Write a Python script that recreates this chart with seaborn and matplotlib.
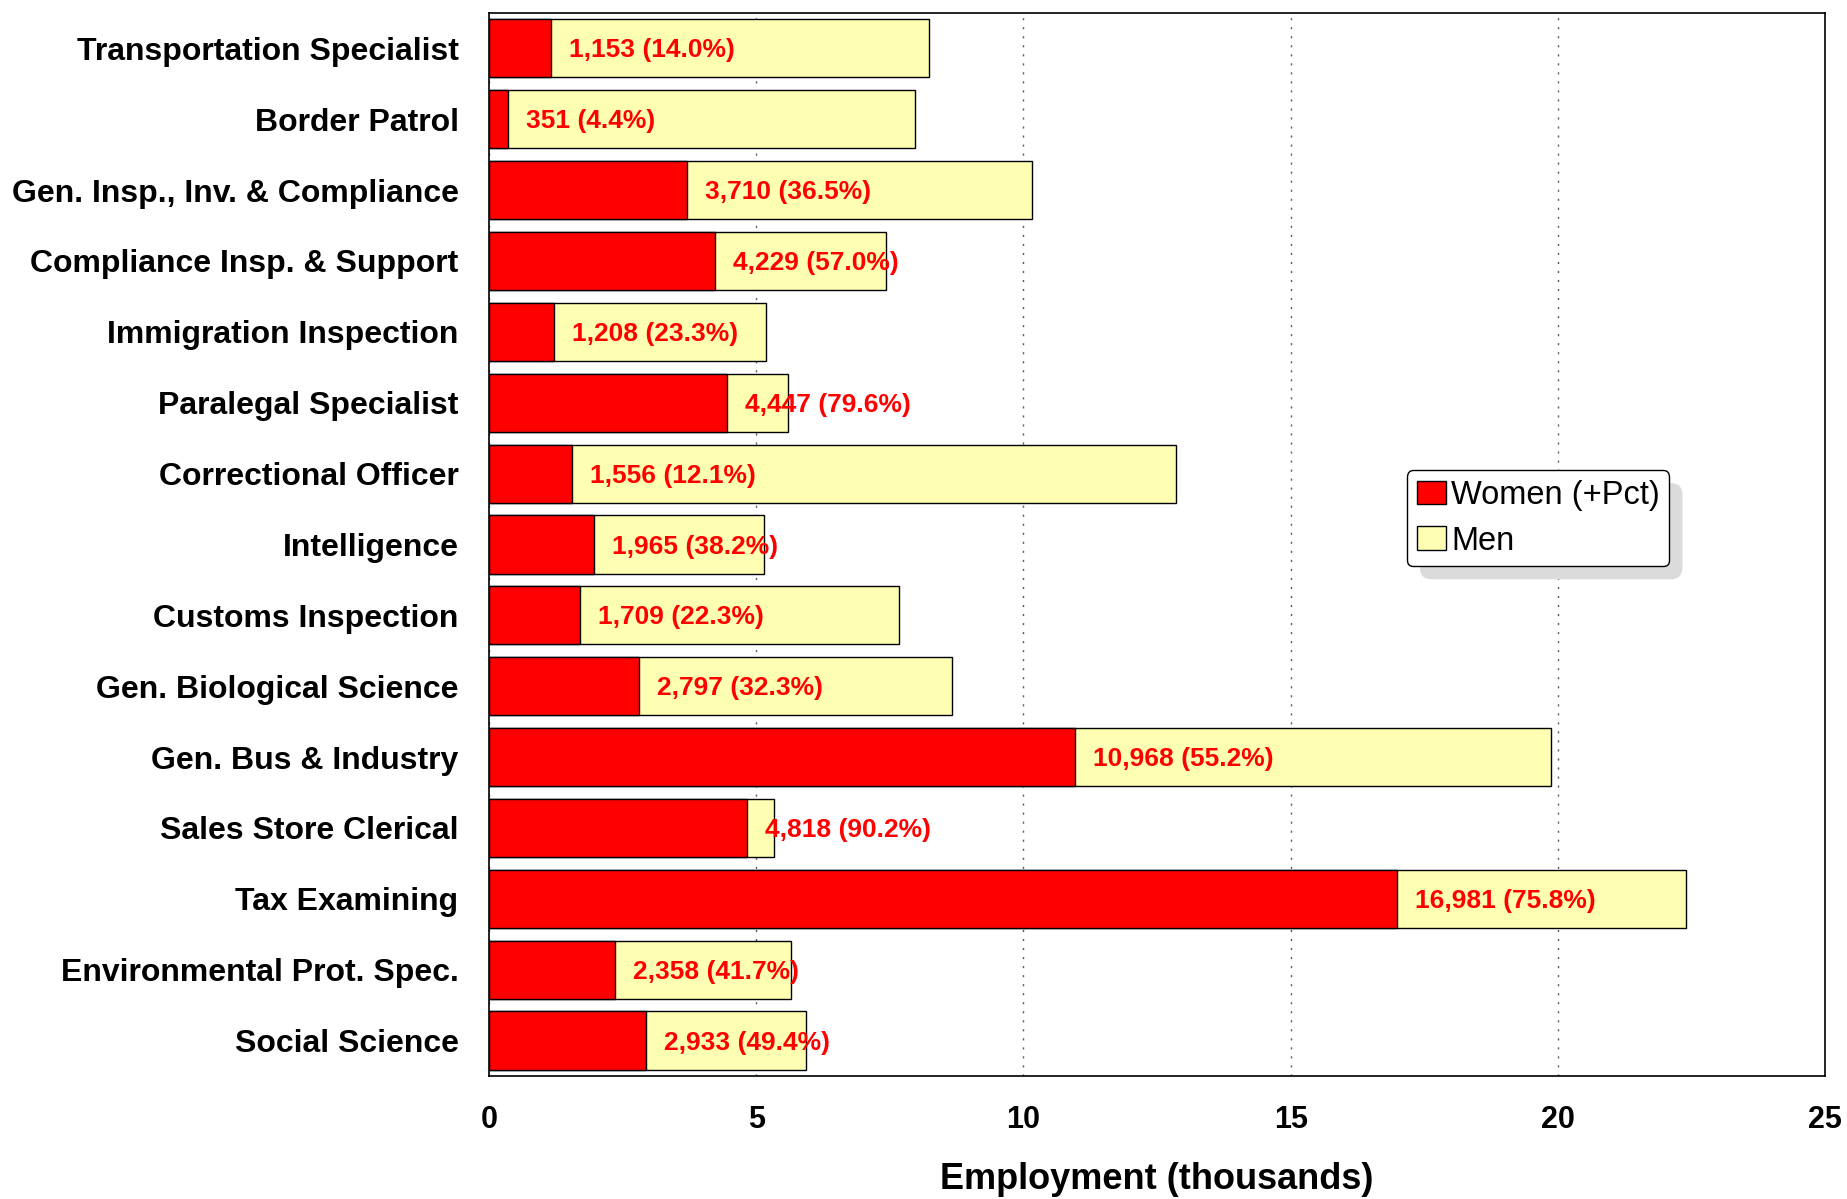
import matplotlib
matplotlib.use("Agg")
import matplotlib.pyplot as plt
import seaborn as sns
import pandas as pd
from matplotlib.patches import FancyBboxPatch, Patch
from matplotlib.transforms import IdentityTransform

categories = [
    "Transportation Specialist", "Border Patrol", "Gen. Insp., Inv. & Compliance",
    "Compliance Insp. & Support", "Immigration Inspection", "Paralegal Specialist",
    "Correctional Officer", "Intelligence", "Customs Inspection",
    "Gen. Biological Science", "Gen. Bus & Industry", "Sales Store Clerical",
    "Tax Examining", "Environmental Prot. Spec.", "Social Science",
]
women = [1153, 351, 3710, 4229, 1208, 4447, 1556, 1965, 1709, 2797, 10968, 4818, 16981, 2358, 2933]
men = [7083, 7626, 6454, 3190, 3977, 1140, 11304, 3179, 5955, 5862, 8902, 523, 5421, 3297, 3004]
women_pct = [14.0, 4.4, 36.5, 57.0, 23.3, 79.6, 12.1, 38.2, 22.3, 32.3, 55.2, 90.2, 75.8, 41.7, 49.4]
x_ticks = [0, 5, 10, 15, 20, 25]

df = pd.DataFrame({
    "cat": categories,
    "women_k": [w / 1000 for w in women],
    "total_k": [(w + m) / 1000 for w, m in zip(women, men)],
})

sns.set_style("white")
plt.rcParams["font.family"] = ["Liberation Sans", "DejaVu Sans"]
for key in ["text.color", "axes.labelcolor", "xtick.color", "ytick.color"]:
    plt.rcParams[key] = "black"

fig = plt.figure(figsize=(18.47, 11.99), dpi=100)
ax = fig.add_axes([0.2648, 0.1026, 0.7233, 0.8866])

RED = "#FF0000"
YEL = "#FFFFB3"

sns.barplot(data=df, x="total_k", y="cat", orient="h", color=YEL, saturation=1,
            width=0.82, edgecolor="black", linewidth=1.0, ax=ax, zorder=3)
sns.barplot(data=df, x="women_k", y="cat", orient="h", color=RED, saturation=1,
            width=0.82, edgecolor="black", linewidth=1.0, ax=ax, zorder=3)

for i, (w, p) in enumerate(zip(women, women_pct)):
    ax.annotate(f"{w:,} ({p:.1f}%)", xy=(w / 1000, i), xytext=(13, -1.5),
                textcoords="offset points", ha="left", va="center",
                color=RED, fontsize=19, fontweight="bold", zorder=6)

ax.set_xlim(0, 25)
ax.set_ylim(len(categories) - 0.5, -0.5)
ax.set_xticks(x_ticks)
ax.set_xticklabels([str(t) for t in x_ticks], fontsize=22, fontweight="bold")
ax.set_yticks(range(len(categories)))
ax.set_yticklabels(categories, fontsize=23, fontweight="bold")
ax.tick_params(axis="y", length=0, pad=22)
ax.tick_params(axis="x", length=0, pad=21)
ax.set_ylabel("")
ax.set_xlabel("Employment (thousands)", fontsize=26, fontweight="bold", labelpad=19)

ax.xaxis.grid(True, linestyle=(0, (1.5, 5)), color="0.35", linewidth=1.0, zorder=0)
ax.yaxis.grid(False)
ax.set_axisbelow(True)
for s in ax.spines.values():
    s.set_visible(True)
    s.set_color("black")
    s.set_linewidth(1.2)

handles = [Patch(facecolor=RED, edgecolor="black", linewidth=1),
           Patch(facecolor=YEL, edgecolor="black", linewidth=1)]
leg = ax.legend(handles, ["Women (+Pct)", "Men"], loc="upper left",
                bbox_to_anchor=(0.687, 0.570), borderaxespad=0, fontsize=23.5,
                handlelength=0.9, handleheight=0.75, handletextpad=0.15,
                labelspacing=0.45, borderpad=0.3, frameon=True, fancybox=True,
                framealpha=1, edgecolor="black")
leg.get_frame().set_linewidth(1.0)
leg.set_zorder(7)

fig.canvas.draw()
bb = leg.get_window_extent()
shadow = FancyBboxPatch((bb.x0 + 13, bb.y0 - 13), bb.width, bb.height,
                        boxstyle="round,pad=0,rounding_size=12",
                        transform=IdentityTransform(), facecolor="0.86",
                        edgecolor="none", zorder=6.5)
ax.add_patch(shadow)

fig.savefig("out.png", dpi=100)
